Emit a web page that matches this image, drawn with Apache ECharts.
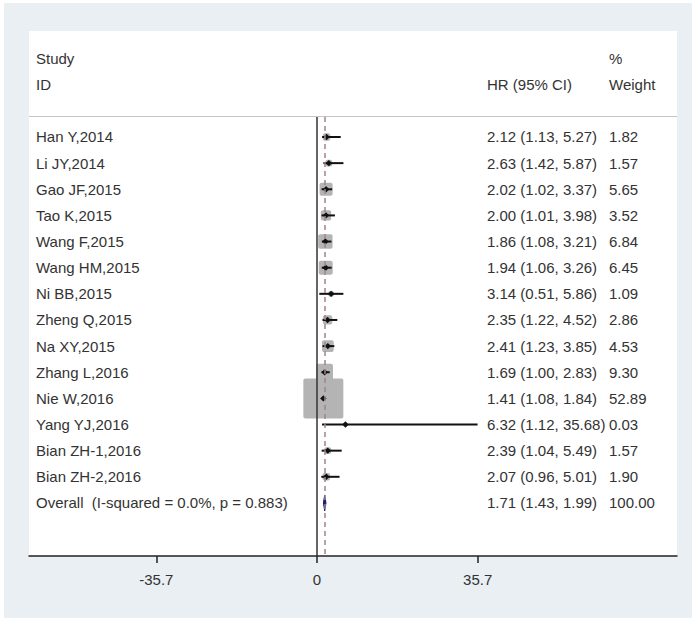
<!DOCTYPE html>
<html>
<head>
<meta charset="utf-8">
<script src="https://cdn.jsdelivr.net/npm/echarts@6/dist/echarts.min.js"></script>
<style>
html,body{margin:0;padding:0;background:#ffffff;}
#chart{width:696px;height:628px;}
</style>
</head>
<body>
<div id="chart"></div>
<script>
const studies = ["Han Y,2014","Li JY,2014","Gao JF,2015","Tao K,2015","Wang F,2015","Wang HM,2015","Ni BB,2015","Zheng Q,2015","Na XY,2015","Zhang L,2016","Nie W,2016","Yang YJ,2016","Bian ZH-1,2016","Bian ZH-2,2016"];
const hr = [2.12,2.63,2.02,2.00,1.86,1.94,3.14,2.35,2.41,1.69,1.41,6.32,2.39,2.07];
const lower = [1.13,1.42,1.02,1.01,1.08,1.06,0.51,1.22,1.23,1.00,1.08,1.12,1.04,0.96];
const upper = [5.27,5.87,3.37,3.98,3.21,3.26,5.86,4.52,3.85,2.83,1.84,35.68,5.49,5.01];
const weights = [1.82,1.57,5.65,3.52,6.84,6.45,1.09,2.86,4.53,9.30,52.89,0.03,1.57,1.90];
const overallLabel = "Overall  (I-squared = 0.0%, p = 0.883)";
const overall = {hr:1.71, lower:1.43, upper:1.99, weight:100.00};
const tickValues = [-35.7, 0, 35.7];
const tickLabels = ["-35.7", "0", "35.7"];

const FONT = '"Liberation Sans", Arial, sans-serif';
const FS = 15;
const TXT = '#333333';
const COL_STUDY = 36, COL_HR = 487, COL_W = 609;

const rows = studies.map((s,i)=>[i, hr[i], lower[i], upper[i], weights[i]]);

function txt(x, y, s){
  return {type:'text', style:{x:x, y:y, text:s, fill:TXT, font:FS+'px '+FONT, textVerticalAlign:'middle', textAlign:'left'}};
}

const chart = echarts.init(document.getElementById('chart'), null, {renderer:'svg'});
chart.setOption({
  animation:false,
  backgroundColor:'#ffffff',
  graphic:[
    {type:'rect', z:-10, shape:{x:4,y:3,width:688,height:615}, style:{fill:'#e9eff2'}, silent:true},
    {type:'rect', z:-9, shape:{x:29,y:31,width:648,height:525}, style:{fill:'#ffffff'}, silent:true},
    {type:'line', z:-8, shape:{x1:29,y1:116.5,x2:677,y2:116.5}, style:{stroke:'#c4c4c4', lineWidth:1}, silent:true},
    txt(COL_STUDY, 58, 'Study'),
    txt(COL_STUDY, 84, 'ID'),
    txt(COL_HR, 84, 'HR (95% CI)'),
    txt(COL_W, 58, '%'),
    txt(COL_W, 84, 'Weight')
  ],
  grid:{left:29, right:19, top:117, bottom:72, containLabel:false},
  xAxis:{
    type:'value', min:-64, max:80, position:'bottom',
    axisLine:{show:true, onZero:false, lineStyle:{color:'#222', width:1.5}},
    axisTick:{show:true, customValues:tickValues, length:7, lineStyle:{color:'#222', width:1.5}},
    axisLabel:{show:true, customValues:tickValues, margin:16, color:TXT, fontSize:FS, fontFamily:FONT,
      formatter:function(v){ const i = tickValues.indexOf(v); return i>=0 ? tickLabels[i] : String(v); }},
    splitLine:{show:false}
  },
  yAxis:{
    type:'value', min:-0.765, max:16.03, inverse:true, show:false,
    axisLine:{show:false}, axisTick:{show:false}, axisLabel:{show:false}, splitLine:{show:false}
  },
  series:[
    {
      type:'line', data:[], z:1, silent:true,
      markLine:{
        silent:true, symbol:['none','none'], label:{show:false},
        data:[
          {xAxis:0, lineStyle:{color:'#333', width:1.5, type:'solid'}},
          {xAxis:overall.hr, lineStyle:{color:'#a08585', width:1.5, type:[5,4]}}
        ]
      }
    },
    {
      type:'custom', z:3, silent:true,
      data:rows,
      renderItem:function(params, api){
        const i = api.value(0);
        const c = api.coord([api.value(1), i]);
        const l = api.coord([api.value(2), i]);
        const u = api.coord([api.value(3), i]);
        const side = 5.5*Math.sqrt(api.value(4));
        const y = c[1];
        const d = 3.2;
        return {type:'group', children:[
          {type:'rect', shape:{x:c[0]-side/2, y:y-side/2, width:side, height:side, r:2}, style:{fill:'#b4b4b4'}},
          {type:'line', shape:{x1:l[0], y1:y, x2:u[0], y2:y}, style:{stroke:'#111', lineWidth:2}},
          {type:'polygon', shape:{points:[[c[0]-d,y],[c[0],y-d],[c[0]+d,y],[c[0],y+d]]}, style:{fill:'#111'}},
          txt(COL_STUDY, y, studies[i]),
          txt(COL_HR, y, hr[i].toFixed(2)+' ('+lower[i].toFixed(2)+', '+upper[i].toFixed(2)+')'),
          txt(COL_W, y, weights[i].toFixed(2))
        ]};
      }
    },
    {
      type:'custom', z:3, silent:true,
      data:[[studies.length, overall.hr, overall.lower, overall.upper, overall.weight]],
      renderItem:function(params, api){
        const i = api.value(0);
        const c = api.coord([api.value(1), i]);
        const l = api.coord([api.value(2), i]);
        const u = api.coord([api.value(3), i]);
        const y = c[1];
        return {type:'group', children:[
          {type:'polygon', shape:{points:[[l[0],y],[c[0],y-8],[u[0],y],[c[0],y+8]]}, style:{fill:'#1d1d6e', stroke:'#1d1d6e', lineWidth:1}},
          txt(COL_STUDY, y, overallLabel),
          txt(COL_HR, y, overall.hr.toFixed(2)+' ('+overall.lower.toFixed(2)+', '+overall.upper.toFixed(2)+')'),
          txt(COL_W, y, overall.weight.toFixed(2))
        ]};
      }
    }
  ]
});
</script>
</body>
</html>
